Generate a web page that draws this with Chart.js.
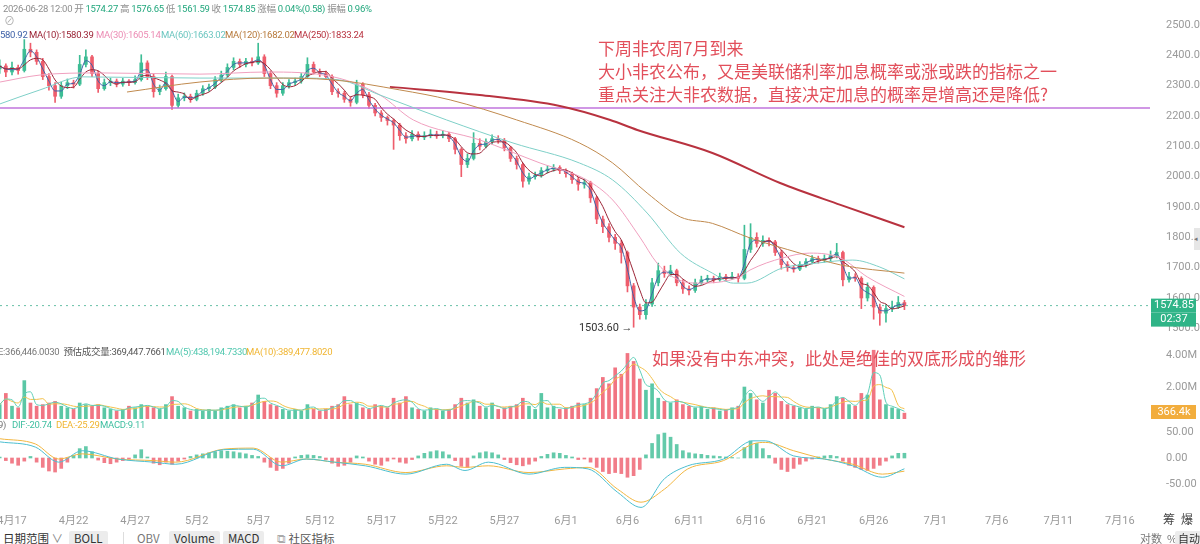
<!DOCTYPE html>
<html lang="zh-CN">
<head>
<meta charset="UTF-8">
<title>K线 12h</title>
<script src="https://cdn.jsdelivr.net/npm/chart.js"></script>
<style>
  html, body { margin: 0; padding: 0; background: #fff; }
  body { position: relative; width: 1200px; height: 544px; overflow: hidden; font-family: Roboto, "Noto Sans CJK SC", sans-serif; }
  canvas { position: absolute; left: 0; }
  .lbl { position: absolute; white-space: nowrap; font-size: 9.5px; letter-spacing: -0.3px; line-height: 12px; color: #8f8f8f; }
  .g { color: #22a77d; }
  .note { position: absolute; white-space: nowrap; color: #e24f5b; font-size: 17px; line-height: 23px; font-family: "Noto Sans CJK SC", sans-serif; }
  .tb { position: absolute; top: 531px; font-size: 11.5px; line-height: 15px; color: #333; white-space: nowrap; font-family: "Noto Sans CJK SC", sans-serif; }
  .box { background: #ececec; border-radius: 2px; padding: 0 5px; }
</style>
</head>
<body>
  <canvas id="priceChart" width="1200" height="340" style="top:0"></canvas>
  <canvas id="volChart" width="1200" height="79" style="top:340px"></canvas>
  <canvas id="macdChart" width="1200" height="111" style="top:419px"></canvas>

  <div class="lbl" style="left:3px;top:3px">2026-06-28 12:00 开 <span class="g">1574.27</span> 高 <span class="g">1576.65</span> 低 <span class="g">1561.59</span> 收 <span class="g">1574.85</span> 涨幅 <span class="g">0.04%(0.58)</span> 振幅 <span class="g">0.96%</span></div>
  <div class="lbl" style="left:4px;top:16px;font-size:11px;color:#aaa">⊘</div>
  <div class="lbl" style="left:-5px;top:29px;color:#3f62a8">1580.92</div>
  <div class="lbl" style="left:29px;top:29px;color:#9b2335">MA(10):1580.39</div>
  <div class="lbl" style="left:96px;top:29px;color:#ec8cb4">MA(30):1605.14</div>
  <div class="lbl" style="left:161px;top:29px;color:#6cc6c0">MA(60):1663.02</div>
  <div class="lbl" style="left:225px;top:29px;color:#b77a3c">MA(120):1682.02</div>
  <div class="lbl" style="left:294px;top:29px;color:#b8323f">MA(250):1833.24</div>

  <div class="note" style="left:598px;top:36px">下周非农周7月到来</div>
  <div class="note" style="left:598px;top:59px">大小非农公布，又是美联储利率加息概率或涨或跌的指标之一</div>
  <div class="note" style="left:598px;top:82px">重点关注大非农数据，直接决定加息的概率是增高还是降低?</div>
  <div class="note" style="left:652px;top:346px">如果没有中东冲突，此处是绝佳的双底形成的雏形</div>

  <div class="lbl" style="left:-10px;top:346px;color:#777">ME:366,446.0030 &nbsp;<span style="color:#555">预估成交量:369,447.7661</span></div>
  <div class="lbl" style="left:166px;top:346px;color:#4fc7ae">MA(5):438,194.7330</div>
  <div class="lbl" style="left:246px;top:346px;color:#f0b531">MA(10):389,477.8020</div>

  <div class="lbl" style="left:-2px;top:419px;color:#777">9)</div>
  <div class="lbl" style="left:12px;top:419px;color:#3fbfa0">DIF:-20.74</div>
  <div class="lbl" style="left:56px;top:419px;color:#f0b531">DEA:-25.29</div>
  <div class="lbl" style="left:100px;top:419px;color:#3fbfa0">MACD:9.11</div>

  <div class="lbl" style="left:1163px;top:514px;font-size:12px;letter-spacing:0;color:#444">筹 &nbsp;爆</div>
  <div style="position:absolute;left:1194px;top:228px;width:6px;height:22px;background:#e6e6e6;font-size:7px;color:#777;line-height:22px">◂</div>

  <div class="tb" style="left:3px">日期范围 <span style="color:#888">∨</span></div>
  <div class="tb box" style="left:69px">BOLL</div>
  <div style="position:absolute;left:123px;top:532px;width:1px;height:12px;background:#ddd"></div>
  <div class="tb" style="left:137px;color:#777">OBV</div>
  <div class="tb box" style="left:169px">Volume</div>
  <div class="tb box" style="left:223px">MACD</div>
  <div class="tb" style="left:277px;color:#555"><span style="color:#aaa">⧉</span> 社区指标</div>
  <div class="tb" style="left:1140px;font-size:11px;color:#777">对数 &nbsp;%</div>
  <div class="tb box" style="left:1175px;font-size:11px;padding:0 3px">自动</div>

<script>
  // 12h candles; day 0 = 4月17
  const firstDay = -1.0;
  const stepDays = 0.5;
  const firstOpen = 2355;

  const closes = [
    2365,2345,2360,2350,2420,2410,2380,2330,2300,2265,
    2300,2310,2305,2370,2395,2340,2290,2310,2315,2305,
    2315,2310,2320,2375,2330,2280,2290,2330,2235,2260,
    2265,2255,2275,2290,2295,2320,2335,2360,2380,2370,
    2380,2375,2395,2340,2300,2275,2300,2310,2315,2330,
    2370,2345,2340,2330,2280,2275,2255,2245,2305,2270,
    2235,2210,2195,2185,2170,2135,2125,2140,2130,2135,
    2140,2135,2140,2125,2090,2040,2060,2110,2100,2115,
    2125,2120,2095,2060,2040,1985,2000,2005,2020,2025,
    2030,2020,2010,1990,1975,1980,1930,1860,1835,1800,
    1780,1750,1640,1570,1545,1580,1650,1690,1680,1690,
    1650,1630,1625,1650,1660,1665,1660,1670,1665,1670,
    1665,1760,1800,1780,1790,1785,1750,1710,1700,1695,
    1710,1720,1730,1725,1730,1740,1750,1660,1670,1665,
    1600,1635,1570,1550,1565,1570,1585,1574.85
  ];
  const highs = [
    2385,2372,2378,2368,2452,2440,2418,2390,2340,2310,
    2312,2322,2318,2400,2418,2400,2348,2322,2325,2322,
    2324,2320,2332,2402,2382,2338,2302,2345,2335,2272,
    2276,2272,2285,2300,2305,2330,2348,2372,2392,2388,
    2390,2392,2440,2402,2348,2310,2310,2320,2325,2340,
    2392,2378,2355,2348,2336,2290,2282,2262,2318,2310,
    2278,2242,2218,2200,2190,2176,2145,2152,2148,2148,
    2155,2150,2152,2146,2130,2095,2075,2145,2125,2125,
    2138,2135,2126,2100,2068,2045,2012,2015,2030,2035,
    2040,2036,2026,2015,1998,1992,1985,1935,1870,1845,
    1810,1790,1755,1648,1580,1595,1665,1715,1705,1708,
    1695,1660,1640,1662,1672,1675,1672,1682,1678,1685,
    1680,1840,1845,1815,1805,1798,1790,1758,1720,1708,
    1720,1730,1740,1738,1742,1755,1780,1755,1685,1680,
    1670,1650,1640,1580,1578,1590,1605,1592
  ];
  const lows = [
    2340,2330,2335,2338,2345,2395,2370,2320,2285,2245,
    2258,2290,2292,2300,2362,2330,2278,2285,2300,2296,
    2298,2300,2305,2315,2320,2262,2270,2285,2222,2228,
    2250,2245,2250,2268,2282,2290,2312,2328,2352,2360,
    2362,2365,2370,2330,2290,2262,2268,2292,2302,2308,
    2325,2338,2330,2322,2270,2262,2245,2232,2240,2260,
    2225,2200,2182,2170,2090,2120,2110,2118,2120,2122,
    2128,2126,2128,2115,2075,2000,2030,2055,2088,2095,
    2108,2110,2085,2050,2025,1965,1975,1992,1998,2012,
    2018,2010,1998,1978,1955,1962,1915,1845,1815,1785,
    1760,1715,1620,1503.6,1530,1530,1572,1640,1668,1672,
    1640,1615,1610,1618,1645,1652,1650,1655,1656,1660,
    1652,1660,1750,1768,1770,1772,1740,1695,1688,1685,
    1690,1702,1712,1715,1718,1722,1732,1640,1652,1655,
    1565,1590,1530,1510,1520,1555,1565,1561.59
  ];
  // volume, millions
  const volumes = [
    0.9,1.6,0.8,0.7,2.4,1.0,0.8,0.9,1.0,1.1,
    0.8,0.7,0.6,1.0,0.9,0.8,0.9,0.7,0.6,0.5,
    0.6,0.8,0.7,0.9,0.8,0.7,0.6,0.9,1.4,0.8,
    0.7,0.5,0.6,0.5,0.6,0.5,0.7,0.8,0.9,0.7,
    0.8,1.0,1.5,1.1,0.9,0.8,0.6,0.5,0.6,0.5,
    0.9,0.6,0.5,0.6,0.8,0.9,1.4,0.9,1.0,0.7,
    0.6,0.9,0.8,0.7,1.3,1.0,1.4,0.7,0.6,0.5,
    0.7,0.6,0.5,0.6,0.9,1.3,1.0,1.2,0.8,0.7,
    1.0,0.6,0.7,0.8,0.9,1.3,0.8,0.6,1.6,0.7,
    0.8,0.6,0.7,0.8,1.0,0.9,1.3,1.9,2.6,2.2,
    3.2,2.8,4.1,3.6,2.5,1.8,2.2,1.3,1.1,1.0,
    1.2,0.9,0.8,0.7,0.8,0.6,0.7,0.5,0.6,0.7,
    0.8,2.0,1.6,1.2,1.0,1.8,1.6,1.1,0.9,0.8,
    0.7,0.6,0.8,0.7,0.6,0.9,1.4,1.3,0.9,0.8,
    1.6,1.5,4.3,1.2,0.9,0.7,0.6,0.3664
  ];
  const macdHist = [
    2,-5,-10,-14,-6,3,-8,-18,-25,-27,
    -20,-8,5,18,22,12,-4,-9,-11,-8,
    -5,-2,6,16,2,-10,-13,-8,-12,-6,
    -2,3,6,8,10,12,14,13,12,10,
    8,5,3,-8,-18,-24,-20,-10,2,5,
    6,5,3,-3,-10,-16,-14,-8,4,2,
    -6,-12,-14,-6,-2,-8,-10,-3,4,9,
    12,14,12,6,-5,-16,-18,4,10,12,
    10,6,-3,-9,-13,-15,-12,-6,3,7,
    10,9,5,2,-3,-2,-8,-18,-26,-30,
    -28,-30,-37,-34,-22,6,28,45,48,40,
    26,14,10,8,7,5,4,3,2,1,
    0,20,33,28,18,5,-10,-22,-26,-20,
    -12,-6,-2,2,4,5,3,-6,-14,-18,
    -22,-24,-20,-14,-6,4,9,9.11
  ];
  // [day, value]
  const difLine = [[-0.97,31],[1.9,21],[3.8,-8],[5.7,14],[8.6,-2],[11.5,-8],[13.3,-12],[17.2,16],[19.6,17],[21.9,-15],[23.9,-2],[26.2,-8],[28.7,-15],[32.0,-31],[35.3,-12],[36.8,-24],[38.7,-8],[42.0,-31],[44.9,-18],[46.8,-21],[49.2,-66],[51.1,-95],[53.0,-40],[54.9,-15],[57.8,-2],[60.2,33],[61.2,33],[63.5,4],[66.0,-2],[68.3,-15],[70.7,-37],[72.5,-20.74]];
  const deaLine = [[-0.97,37],[1.9,27],[3.8,-2],[5.7,8],[8.6,-2],[11.5,-5],[13.3,-8],[17.2,17],[19.6,19],[21.9,-8],[23.9,-2],[26.2,-8],[28.7,-12],[32.0,-28],[35.3,-15],[36.8,-18],[38.7,-15],[42.0,-28],[44.9,-21],[46.8,-18],[49.2,-60],[51.1,-85],[53.0,-60],[54.9,-21],[57.8,-5],[60.2,27],[61.2,30],[63.5,14],[66.0,-2],[68.3,-12],[70.7,-31],[72.5,-25.29]];
  const ma30Line = [[-0.97,2312],[2.27,2335],[7.15,2342],[15.27,2338],[20.7,2345],[26.1,2329],[29.9,2269],[32.6,2187],[38.0,2121],[42.9,2045],[46.7,1989],[48.8,1923],[51.0,1801],[52.4,1715],[53.7,1669],[55.6,1649],[59.1,1669],[59.95,1692],[62.6,1732],[64.8,1748],[67.3,1732],[69.5,1669],[72.5,1605.14]];
  const ma60Line = [[-0.97,2240],[2.27,2286],[5.77,2329],[15.27,2325],[23.4,2325],[26.6,2319],[29.9,2269],[35.3,2187],[40.7,2111],[46.1,2045],[48.8,1989],[51.6,1880],[54.3,1748],[56.9,1682],[58.6,1649],[59.7,1649],[62.6,1699],[65.4,1715],[68.3,1725],[70.5,1702],[72.5,1663.02]];
  const ma120Line = [[9.34,2279],[15.27,2312],[20.7,2325],[26.1,2319],[31.5,2286],[35.6,2253],[41.0,2187],[46.1,2111],[48.8,2045],[51.6,1946],[54.3,1867],[56.9,1846],[59.95,1798],[64.0,1748],[67.3,1709],[72.5,1682.02]];
  const ma250Line = [[30.7,2296],[38.0,2269],[44.5,2233],[48.6,2187],[50.8,2154],[56.9,2078],[62.4,1979],[67.3,1907],[72.5,1833.24]];
  const supportLevel = 2226;

  const tickDays = [0,5,10,15,20,25,30,35,40,45,50,55,60,65,70,75,80,85,90];
  const tickLabels = ['4月17','4月22','4月27','5月2','5月7','5月12','5月17','5月22','5月27','6月1','6月6','6月11','6月16','6月21','6月26','7月1','7月6','7月11','7月16'];
  const priceTicks = [1500,1600,1700,1800,1900,2000,2100,2200,2300,2400,2500];
  const volumeTicks = [2,4];
  const macdTicks = [-50,0,50];
  const lastVolumeText = '366.4k';
  const countdown = '02:37';

  // view window
  const viewMin = -0.975, viewMax = 92.45;
  const priceMin = 1461.5, priceMax = 2582.4;

  const upColor = '#3dbd95', downColor = '#ee5d6c';
  Chart.defaults.font.family = 'Roboto, "Noto Sans CJK SC", sans-serif';

  const days = closes.map((_, i) => firstDay + i * stepDays);
  const opens = closes.map((c, i) => i ? closes[i - 1] : firstOpen);
  const isUp = closes.map((c, i) => c >= opens[i]);
  const candleColors = isUp.map(u => u ? upColor : downColor);

  function rolling(arr, n) {
    return arr.map((_, i) => {
      const s = arr.slice(Math.max(0, i - n + 1), i + 1);
      return s.reduce((a, b) => a + b, 0) / s.length;
    });
  }
  const pts = arr => arr.map(p => ({ x: p[0], y: p[1] }));
  // MA windows scaled down to 12h candles
  const ma5 = rolling(closes, 2), ma10 = rolling(closes, 4);
  const volMa5 = rolling(volumes, 2), volMa10 = rolling(volumes, 4);

  function lineDs(data, color, width, order, extra) {
    return Object.assign({ type: 'line', data, borderColor: color, borderWidth: width, pointRadius: 0,
      cubicInterpolationMode: 'monotone', order }, extra || {});
  }
  function rightAxis(min, max, ticks, fmt) {
    return {
      position: 'right', min, max,
      afterFit: s => { s.width = 50; s.paddingTop = 0; s.paddingBottom = 0; },
      afterBuildTicks: s => { s.ticks = ticks.map(v => ({ value: v })); },
      ticks: { color: '#9a9a9a', font: { size: 11 }, padding: 8, callback: fmt },
      grid: { display: false }, border: { display: false }
    };
  }
  const xAxis = { type: 'linear', min: viewMin, max: viewMax, display: false, offset: false, grid: { display: false } };
  const baseOpts = { responsive: false, animation: false, devicePixelRatio: 1, layout: { padding: 0 },
    plugins: { legend: { display: false }, tooltip: { enabled: false } } };

  const priceMarks = {
    id: 'priceMarks',
    afterDatasetsDraw(chart) {
      const { ctx, scales: { x, y }, chartArea } = chart;
      const last = closes[closes.length - 1];
      const py = y.getPixelForValue(last);
      ctx.save();
      ctx.fillStyle = '#2fb487';
      ctx.fillRect(chartArea.right + 1, py - 7, 45, 14);
      ctx.fillRect(chartArea.right + 1, py + 7, 45, 14);
      ctx.fillStyle = '#fff';
      ctx.font = '11px Roboto';
      ctx.textAlign = 'center';
      ctx.textBaseline = 'middle';
      ctx.fillText(last.toFixed(2), chartArea.right + 24, py);
      ctx.fillText(countdown, chartArea.right + 24, py + 14);
      const low = Math.min(...lows), li = lows.indexOf(low);
      ctx.fillStyle = '#333';
      ctx.textAlign = 'right';
      ctx.fillText(low.toFixed(2) + ' →', x.getPixelForValue(days[li]) - 1, y.getPixelForValue(low) + 1);
      ctx.restore();
    }
  };

  new Chart(document.getElementById('priceChart'), {
    type: 'bar',
    data: { datasets: [
      lineDs(pts(ma250Line), '#b8323f', 2, 0),
      lineDs(pts(ma120Line), '#c08a4e', 1, 1),
      lineDs(pts(ma60Line), '#7fd0c8', 1, 1),
      lineDs(pts(ma30Line), '#f0a0bf', 1, 1),
      lineDs(days.map((d, i) => ({ x: d, y: ma10[i] })), '#9b2335', 1, 1),
      lineDs(days.map((d, i) => ({ x: d, y: ma5[i] })), '#3f62a8', 1, 1),
      lineDs([{ x: viewMin, y: supportLevel }, { x: viewMax, y: supportLevel }], '#c074dc', 1.5, 1),
      lineDs([{ x: viewMin, y: closes[closes.length - 1] }, { x: viewMax, y: closes[closes.length - 1] }], '#66bfa6', 1, 1, { borderDash: [2, 4] }),
      { data: days.map((d, i) => ({ x: d, y: [opens[i], closes[i]] })), backgroundColor: candleColors,
        barThickness: 3, grouped: false, minBarLength: 1, order: 5 },
      { data: days.map((d, i) => ({ x: d, y: [lows[i], highs[i]] })), backgroundColor: candleColors,
        barThickness: 1, grouped: false, order: 6 }
    ]},
    options: Object.assign({}, baseOpts, {
      scales: { x: xAxis, y: rightAxis(priceMin, priceMax, priceTicks, v => v.toFixed(2)) }
    }),
    plugins: [priceMarks]
  });

  const volMarks = {
    id: 'volMarks',
    afterDatasetsDraw(chart) {
      const { ctx, scales: { y }, chartArea } = chart;
      const cy = Math.min(y.getPixelForValue(volumes[volumes.length - 1]), chartArea.bottom - 7);
      ctx.save();
      ctx.fillStyle = '#f2ad3d';
      ctx.fillRect(chartArea.right + 1, cy - 7, 45, 14);
      ctx.fillStyle = '#fff';
      ctx.font = '11px Roboto';
      ctx.textAlign = 'center';
      ctx.textBaseline = 'middle';
      ctx.fillText(lastVolumeText, chartArea.right + 24, cy);
      ctx.restore();
    }
  };

  new Chart(document.getElementById('volChart'), {
    type: 'bar',
    data: { datasets: [
      lineDs(days.map((d, i) => ({ x: d, y: volMa5[i] })), '#5fcfb8', 1, 0),
      lineDs(days.map((d, i) => ({ x: d, y: volMa10[i] })), '#f3c14b', 1, 0),
      { data: days.map((d, i) => ({ x: d, y: volumes[i] })),
        backgroundColor: isUp.map(u => u ? 'rgba(61,189,149,0.85)' : 'rgba(238,93,108,0.85)'),
        barThickness: 3, grouped: false, order: 3 }
    ]},
    options: Object.assign({}, baseOpts, {
      scales: { x: xAxis, y: rightAxis(0, 4.94, volumeTicks, v => v.toFixed(2) + 'M') }
    }),
    plugins: [volMarks]
  });

  const dateAxis = {
    id: 'dateAxis',
    afterDraw(chart) {
      const { ctx, scales: { x }, chartArea } = chart;
      ctx.save();
      ctx.fillStyle = '#9a9a9a';
      ctx.font = '11px Roboto, "Noto Sans CJK SC"';
      ctx.textAlign = 'center';
      ctx.textBaseline = 'middle';
      tickDays.forEach((d, i) => ctx.fillText(tickLabels[i], x.getPixelForValue(d), chartArea.bottom + 11));
      ctx.restore();
    }
  };

  new Chart(document.getElementById('macdChart'), {
    type: 'bar',
    data: { datasets: [
      lineDs(pts(difLine), '#4cbfd0', 1, 0),
      lineDs(pts(deaLine), '#f2b640', 1, 0),
      { data: days.map((d, i) => ({ x: d, y: macdHist[i] })),
        backgroundColor: macdHist.map(v => v >= 0 ? 'rgba(61,189,149,0.8)' : 'rgba(238,93,108,0.8)'),
        barThickness: 3, grouped: false, order: 3 }
    ]},
    options: Object.assign({}, baseOpts, {
      layout: { padding: { bottom: 20 } },
      scales: { x: xAxis, y: rightAxis(-100, 75, macdTicks, v => v.toFixed(2)) }
    }),
    plugins: [dateAxis]
  });
</script>
</body>
</html>
